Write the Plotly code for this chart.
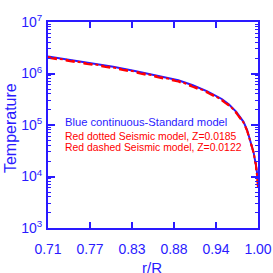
import plotly.graph_objects as go

r_blue = [0.71, 0.74, 0.77, 0.80, 0.83, 0.86, 0.89, 0.91, 0.93, 0.95, 0.96, 0.97, 0.98, 0.985, 0.99, 0.994, 0.997, 0.999, 1.0]
T_blue = [2.15e6, 1.85e6, 1.6e6, 1.35e6, 1.12e6, 9.2e5, 7.4e5, 5.9e5, 4.5e5, 3.2e5, 2.5e5, 1.8e5, 1.15e5, 8.0e4, 4.8e4, 2.9e4, 1.7e4, 1.05e4, 9.0e3]

r_dot = [0.71, 0.74, 0.77, 0.80, 0.83, 0.86, 0.89, 0.91, 0.93, 0.95, 0.96, 0.97, 0.98, 0.985, 0.99, 0.994, 0.997, 0.999, 1.0]
T_dot = [2.09e6, 1.80e6, 1.55e6, 1.31e6, 1.09e6, 8.9e5, 7.2e5, 5.7e5, 4.4e5, 3.1e5, 2.45e5, 1.75e5, 1.12e5, 7.8e4, 4.7e4, 2.85e4, 1.7e4, 1.0e4, 7.0e3]

r_dash = [0.71, 0.74, 0.77, 0.80, 0.83, 0.86, 0.89, 0.91, 0.93, 0.95, 0.96, 0.97, 0.98, 0.985, 0.99, 0.994, 0.997, 0.999, 1.0]
T_dash = [2.02e6, 1.74e6, 1.50e6, 1.27e6, 1.05e6, 8.6e5, 6.95e5, 5.5e5, 4.25e5, 3.0e5, 2.37e5, 1.7e5, 1.1e5, 7.7e4, 4.7e4, 2.9e4, 1.75e4, 1.0e4, 6.0e3]

x_tickvals = [0.71, 0.768, 0.826, 0.884, 0.942, 1.0]
x_ticktext = ["0.71", "0.77", "0.83", "0.88", "0.94", "1.00"]
y_tickvals = [1e3, 1e4, 1e5, 1e6, 1e7]
y_ticktext = ["10<sup>3</sup>", "10<sup>4</sup>", "10<sup>5</sup>", "10<sup>6</sup>", "10<sup>7</sup>"]
y_minor = [m * 10 ** e for e in range(3, 7) for m in range(2, 10)]

labels = [
    ("Blue continuous-Standard model", "blue", 11.2, 0.515),
    ("Red dotted Seismic model, Z=0.0185", "red", 10.4, 0.442),
    ("Red dashed Seismic model, Z=0.0122", "red", 10.4, 0.393),
]

BLUE = "#2a1aff"
FONT = "Liberation Sans, Arial, sans-serif"

fig = go.Figure()
fig.add_trace(go.Scatter(x=r_blue, y=T_blue, mode="lines", line=dict(color=BLUE, width=2)))
fig.add_trace(go.Scatter(x=r_dot, y=T_dot, mode="lines", line=dict(color="red", width=2, dash="dot")))
fig.add_trace(go.Scatter(x=r_dash, y=T_dash, mode="lines", line=dict(color="red", width=2, dash="dash")))

for text, col, size, yp in labels:
    fig.add_annotation(text=text, x=0.07, y=yp, xref="paper", yref="paper",
                       xanchor="left", yanchor="middle", showarrow=False,
                       font=dict(color=BLUE if col == "blue" else "red", size=size, family=FONT))

fig.add_annotation(text="Temperature", x=-0.181, y=0.485, xref="paper", yref="paper",
                   textangle=-90, showarrow=False, xanchor="center", yanchor="middle",
                   font=dict(size=16, color=BLUE, family=FONT))
fig.add_annotation(text="r/R", x=0.495, y=-0.19, xref="paper", yref="paper",
                   showarrow=False, xanchor="center", yanchor="middle",
                   font=dict(size=15, color=BLUE, family=FONT))

fig.update_layout(
    width=273, height=273,
    margin=dict(l=48, r=15, t=22, b=45),
    paper_bgcolor="white", plot_bgcolor="white",
    showlegend=False,
    font=dict(family=FONT, color=BLUE),
)
fig.update_xaxes(
    range=[0.71, 1.0], tickvals=x_tickvals, ticktext=x_ticktext,
    ticks="inside", ticklen=6, tickwidth=1.5, tickcolor=BLUE,
    showline=True, linecolor=BLUE, linewidth=2, mirror="allticks",
    showgrid=False, zeroline=False, automargin=False, ticklabelstandoff=7,
    tickfont=dict(size=14, color=BLUE, family=FONT),
)
fig.update_yaxes(
    type="log", range=[3, 7], tickvals=y_tickvals, ticktext=y_ticktext,
    ticks="inside", ticklen=7, tickwidth=1.5, tickcolor=BLUE,
    minor=dict(tickvals=y_minor, ticks="inside", ticklen=3, tickcolor=BLUE, tickwidth=1),
    showline=True, linecolor=BLUE, linewidth=2, mirror="allticks",
    showgrid=False, zeroline=False, automargin=False, ticklabelstandoff=1,
    tickfont=dict(size=14, color=BLUE, family=FONT),
)

fig.write_html("out.html", config={"displayModeBar": False},
               post_script="document.body.style.margin='0';document.body.style.overflow='hidden';")
